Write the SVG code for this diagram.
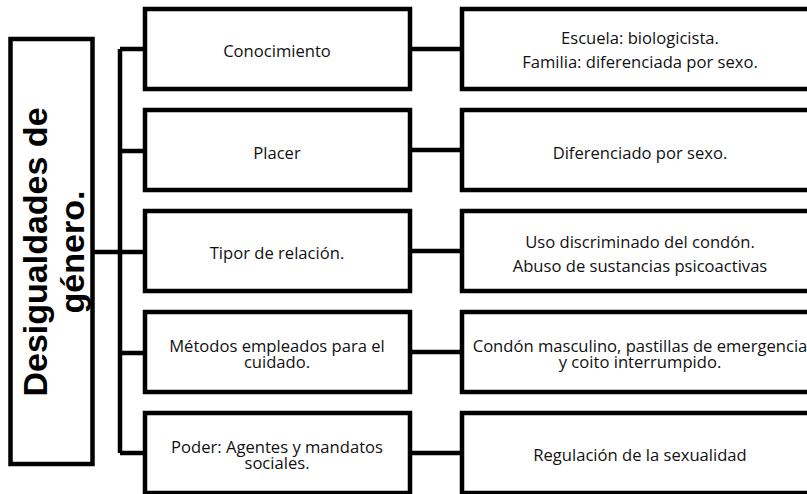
<svg xmlns="http://www.w3.org/2000/svg" width="807" height="494" viewBox="0 0 807 494">
  <style>
    .box { fill: #ffffff; stroke: #000000; stroke-width: 4.5; }
    .conn { fill: none; stroke: #000000; stroke-width: 4.5; }
    .t { font-family: "Open Sans", "Liberation Sans", sans-serif; font-size: 16.6px; fill: #111111; text-anchor: middle; }
    .title { font-family: "Liberation Sans", Arial, sans-serif; font-size: 34px; font-weight: bold; fill: #000000; text-anchor: middle; }
  </style>
  <rect x="0" y="0" width="807" height="494" fill="#ffffff"/>
  <g id="connectors">
    <path class="conn" d="M92.5 252 H120"/>
    <path class="conn" d="M120 49 V453"/>
    <path class="conn" d="M120 49 H145"/>
    <path class="conn" d="M120 151 H145"/>
    <path class="conn" d="M120 252 H145"/>
    <path class="conn" d="M120 353 H145"/>
    <path class="conn" d="M120 453 H145"/>
    <path class="conn" d="M410 49 H462"/>
    <path class="conn" d="M410 150 H462"/>
    <path class="conn" d="M410 251 H462"/>
    <path class="conn" d="M410 352 H462"/>
    <path class="conn" d="M410 453 H462"/>
  </g>
  <g id="root">
    <rect class="box" x="10.5" y="39" width="82" height="425"/>
    <g transform="translate(0 252) rotate(-90)">
      <text class="title" x="0" y="47">Desigualdades de</text>
      <text class="title" x="0" y="84">género.</text>
    </g>
  </g>
  <g id="conocimiento">
    <rect class="box" x="145" y="9" width="265" height="80"/>
    <text class="t" x="277" y="57">Conocimiento</text>
  </g>
  <g id="placer">
    <rect class="box" x="145" y="110" width="265" height="80"/>
    <text class="t" x="277" y="159">Placer</text>
  </g>
  <g id="relacion">
    <rect class="box" x="145" y="211" width="265" height="80"/>
    <text class="t" x="277" y="259">Tipor de relación.</text>
  </g>
  <g id="metodos">
    <rect class="box" x="145" y="312" width="265" height="80"/>
    <text class="t" x="277" y="352">Métodos empleados para el</text>
    <text class="t" x="277" y="368">cuidado.</text>
  </g>
  <g id="poder">
    <rect class="box" x="145" y="413" width="265" height="80"/>
    <text class="t" x="277" y="453">Poder: Agentes y mandatos</text>
    <text class="t" x="277" y="469">sociales.</text>
  </g>
  <g id="conocimiento-detalle">
    <rect class="box" x="462" y="9" width="360" height="80"/>
    <text class="t" x="640" y="44">Escuela: biologicista.</text>
    <text class="t" x="640" y="68">Familia: diferenciada por sexo.</text>
  </g>
  <g id="placer-detalle">
    <rect class="box" x="462" y="110" width="360" height="80"/>
    <text class="t" x="640" y="159">Diferenciado por sexo.</text>
  </g>
  <g id="relacion-detalle">
    <rect class="box" x="462" y="211" width="360" height="80"/>
    <text class="t" x="640" y="248">Uso discriminado del condón.</text>
    <text class="t" x="640" y="272">Abuso de sustancias psicoactivas</text>
  </g>
  <g id="metodos-detalle">
    <rect class="box" x="462" y="312" width="360" height="80"/>
    <text class="t" x="640" y="352">Condón masculino, pastillas de emergencia</text>
    <text class="t" x="640" y="368">y coito interrumpido.</text>
  </g>
  <g id="poder-detalle">
    <rect class="box" x="462" y="413" width="360" height="80"/>
    <text class="t" x="640" y="461">Regulación de la sexualidad</text>
  </g>
</svg>
